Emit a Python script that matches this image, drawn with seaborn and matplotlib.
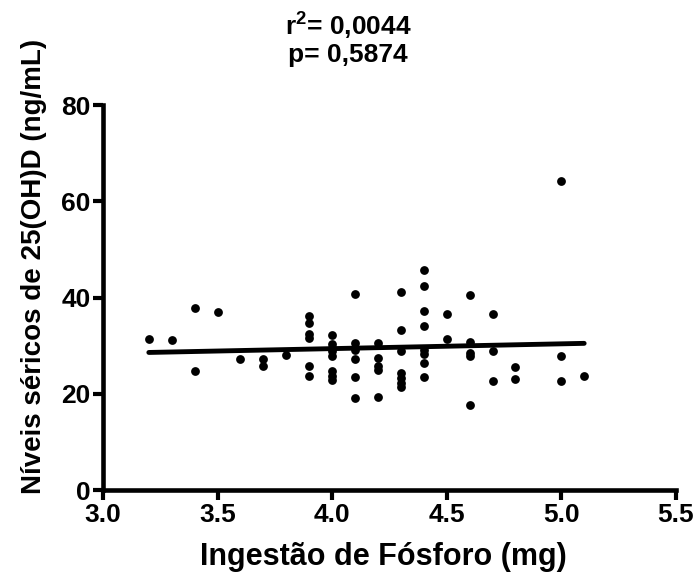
import numpy as np
import pandas as pd
import seaborn as sns
import matplotlib
matplotlib.use('Agg')
import matplotlib.pyplot as plt

# 数据
fosforo = [3.2, 3.3, 3.4, 3.4, 3.5, 3.6, 3.7, 3.7, 3.8,
           3.9, 3.9, 3.9, 3.9, 3.9, 3.9,
           4.0, 4.0, 4.0, 4.0, 4.0, 4.0, 4.0, 4.0,
           4.1, 4.1, 4.1, 4.1, 4.1, 4.1,
           4.2, 4.2, 4.2, 4.2, 4.2,
           4.3, 4.3, 4.3, 4.3, 4.3, 4.3, 4.3,
           4.4, 4.4, 4.4, 4.4, 4.4, 4.4, 4.4, 4.4,
           4.5, 4.5,
           4.6, 4.6, 4.6, 4.6, 4.6,
           4.7, 4.7, 4.7,
           4.8, 4.8,
           5.0, 5.0, 5.0,
           5.1]
vitamina_d = [31.3, 31.2, 37.9, 24.7, 37.0, 27.2, 27.2, 25.8, 28.1,
              36.2, 34.8, 32.4, 31.7, 25.8, 23.8,
              32.3, 30.3, 29.6, 28.8, 27.9, 24.8, 23.8, 22.9,
              40.7, 30.6, 29.2, 27.3, 23.6, 19.2,
              30.6, 27.4, 25.8, 25.0, 19.4,
              41.1, 33.3, 29.0, 24.3, 23.2, 22.3, 21.5,
              45.7, 42.5, 37.2, 34.2, 29.1, 28.3, 26.5, 23.6,
              36.5, 31.3,
              40.6, 30.8, 28.4, 27.9, 17.6,
              36.6, 28.9, 22.6,
              25.6, 23.0,
              64.2, 27.9, 22.6,
              23.8]

x_ticks = [3.0, 3.5, 4.0, 4.5, 5.0, 5.5]
y_ticks = [0, 20, 40, 60, 80]
x_label = 'Ingestão de Fósforo (mg)'
y_label = 'Níveis séricos de 25(OH)D (ng/mL)'
stats_text = 'r$^\\mathrm{2}$= 0,0044\np= 0,5874'

df = pd.DataFrame({'fosforo': fosforo, 'vitd': vitamina_d})

sns.set_style('ticks')
plt.rcParams['font.family'] = ['Liberation Sans', 'DejaVu Sans']
plt.rcParams['font.weight'] = 'bold'
plt.rcParams['mathtext.fontset'] = 'custom'
plt.rcParams['mathtext.rm'] = 'Liberation Sans:bold'
plt.rcParams['text.color'] = 'black'
plt.rcParams['axes.labelcolor'] = 'black'
plt.rcParams['axes.edgecolor'] = 'black'
plt.rcParams['xtick.color'] = 'black'
plt.rcParams['ytick.color'] = 'black'

fig = plt.figure(figsize=(6.96, 5.83), dpi=100)
ax = fig.add_axes([0.148, 0.1595, 0.823, 0.660])

sns.regplot(data=df, x='fosforo', y='vitd', ci=None, ax=ax, color='black',
            scatter_kws={'s': 40, 'linewidths': 0, 'alpha': 1},
            line_kws={'linewidth': 3.5})

ax.set_xlim(3.0, 5.5)
ax.set_ylim(0, 80)
ax.set_xticks(x_ticks)
ax.set_xticklabels([f'{t:.1f}' for t in x_ticks])
ax.set_yticks(y_ticks)

for side in ['top', 'right']:
    ax.spines[side].set_visible(False)
for side in ['left', 'bottom']:
    ax.spines[side].set_linewidth(3.3)
ax.tick_params(width=3, length=7, labelsize=19, pad=2)

ax.set_xlabel(x_label, fontsize=22, fontweight='bold')
ax.set_ylabel(y_label, fontsize=20, fontweight='bold')
ax.xaxis.set_label_coords(0.49, -0.135)
ax.yaxis.set_label_coords(-0.097, 0.58)

fig.text(0.5, 0.985, stats_text, ha='center', va='top', fontsize=19,
         fontweight='bold', linespacing=1.15)

fig.savefig('out.png', dpi=100)
